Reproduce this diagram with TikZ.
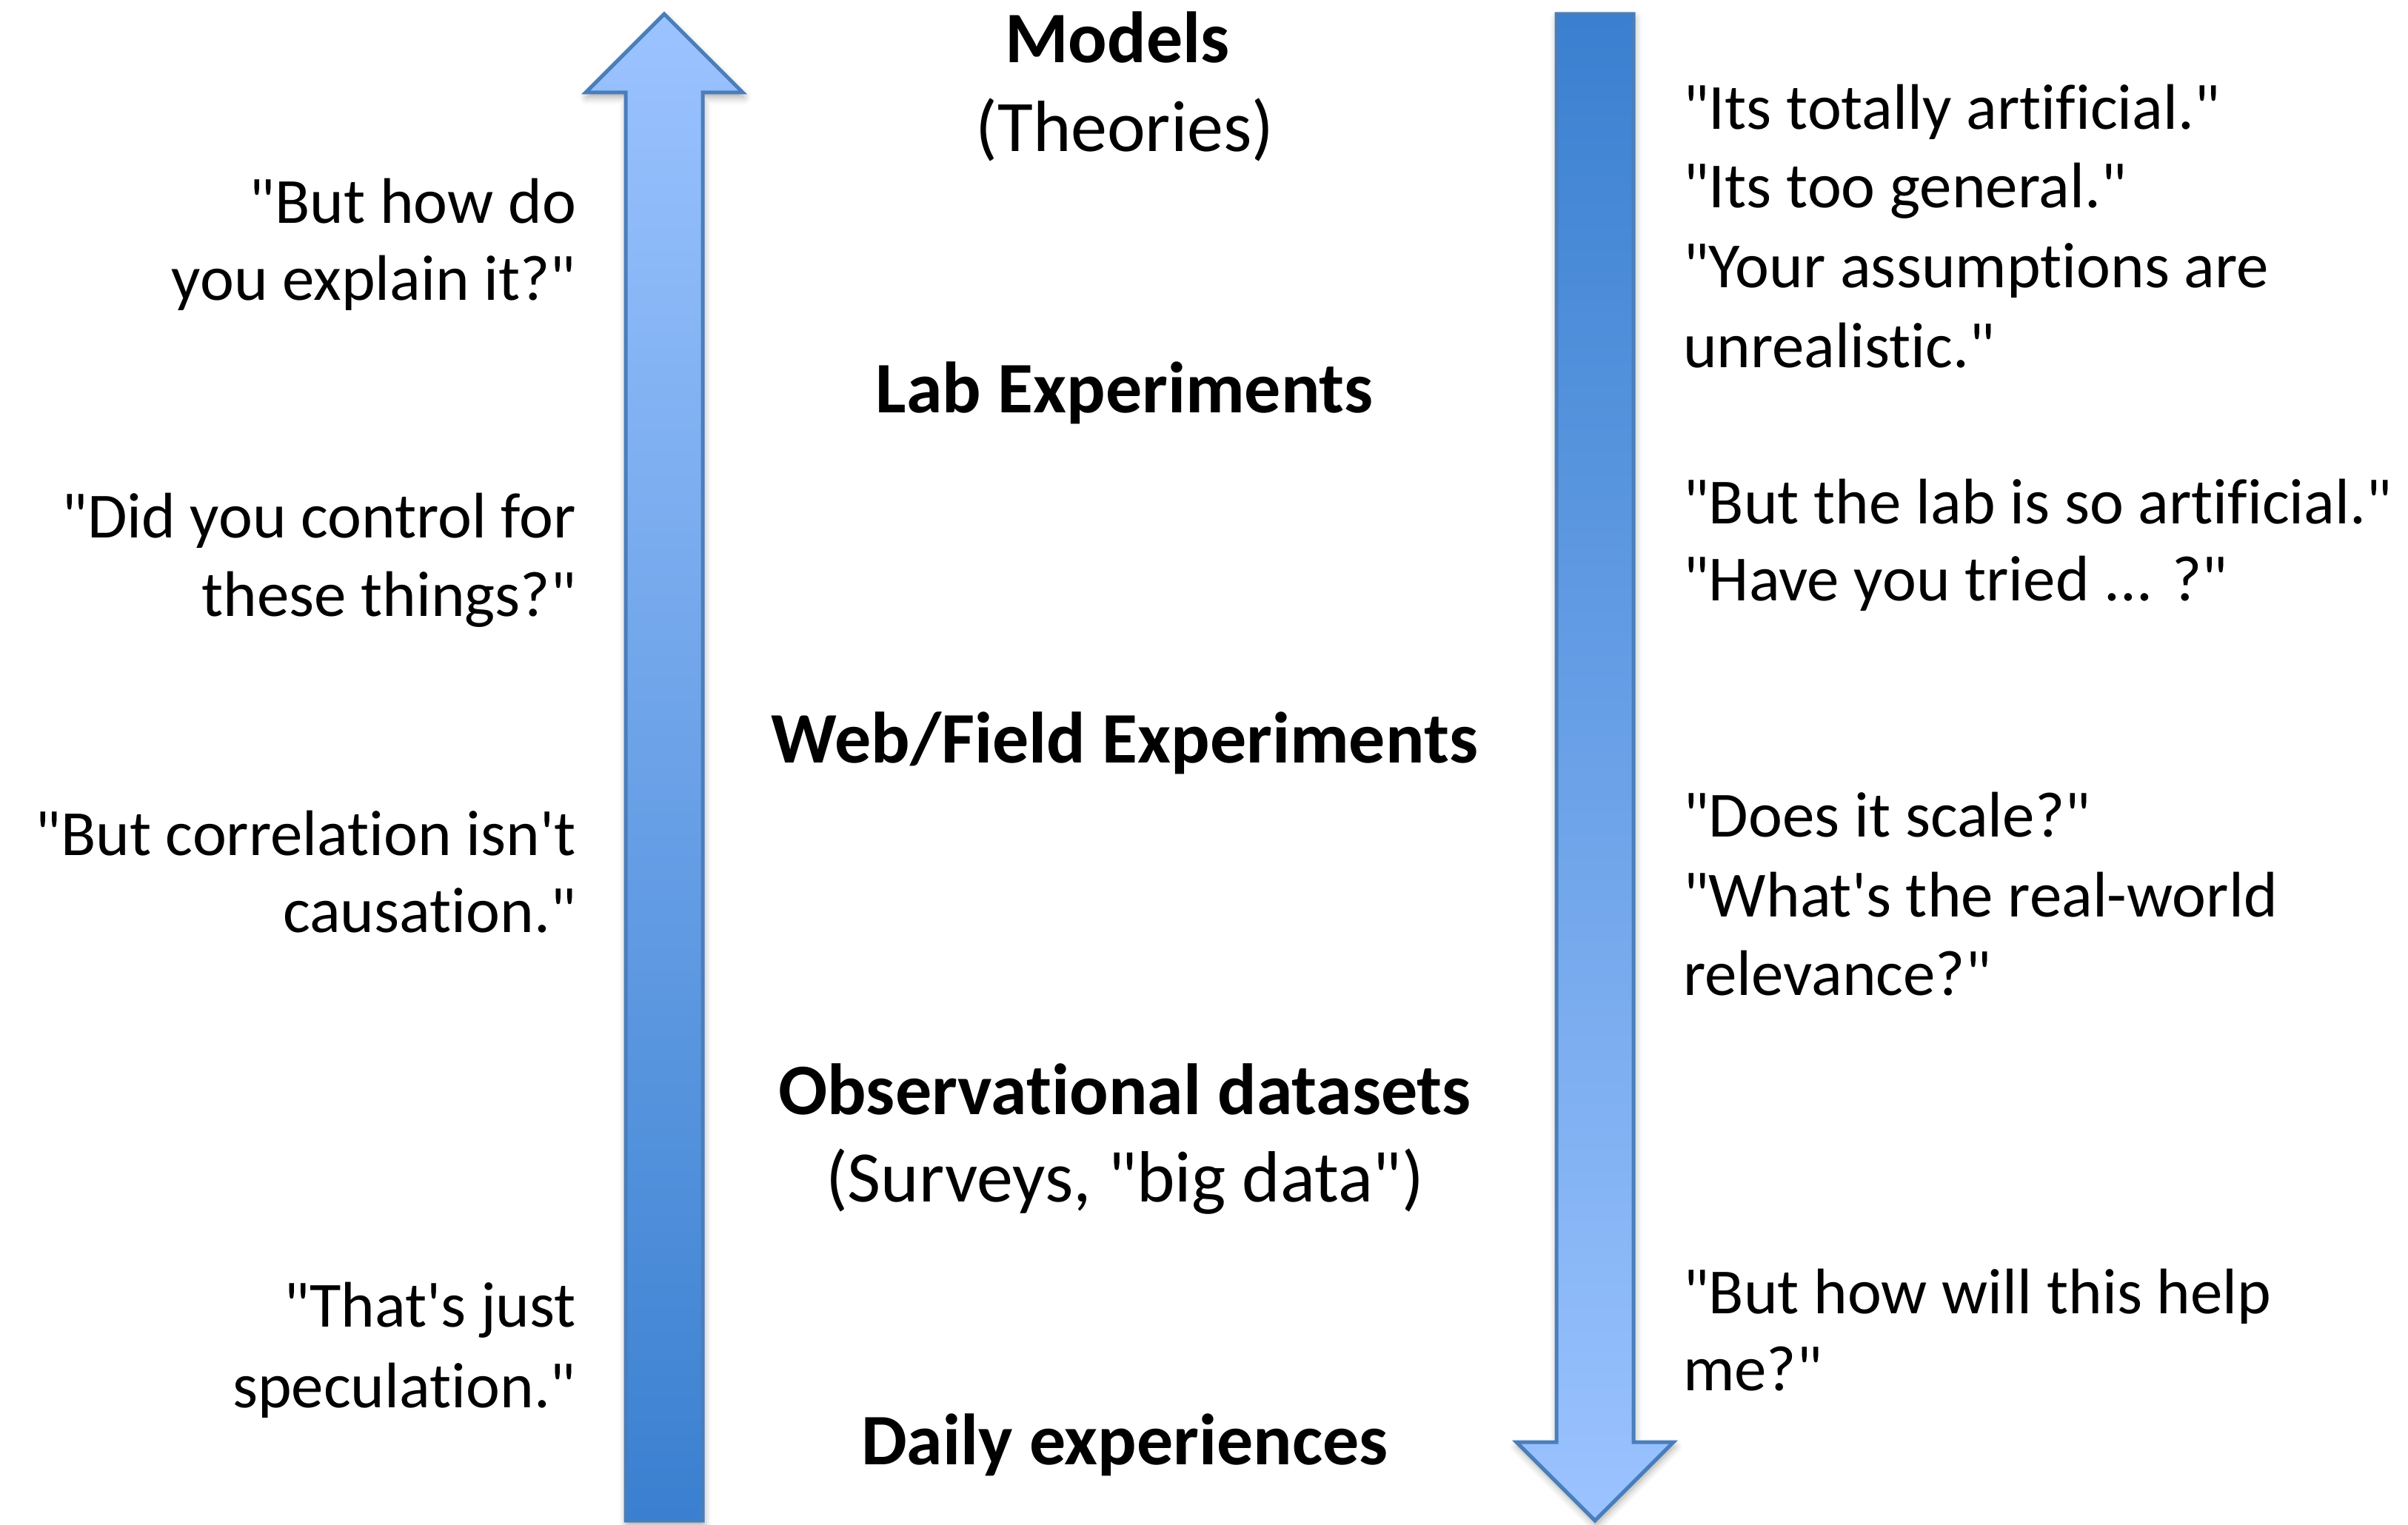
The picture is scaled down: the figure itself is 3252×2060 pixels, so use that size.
\documentclass[tikz,border=0pt]{standalone}
\usepackage{fontspec}
% straight quotes and no f-ligatures, as typed
\setmainfont{Carlito}[Ligatures={TeXOff,NoCommon}]
\usetikzlibrary{shadows.blur}

\definecolor{arrowlight}{RGB}{155,195,255}
\definecolor{arrowdark}{RGB}{58,128,208}
\definecolor{arrowedge}{RGB}{74,126,187}

\begin{document}
\begin{tikzpicture}[x=0.2pt, y=-0.2pt,
  every node/.style={inner sep=0pt, outer sep=0pt},
  quoteleft/.style={anchor=base east, font=\fontsize{17.4}{21}\selectfont},
  quoteright/.style={anchor=base west, font=\fontsize{17.4}{21}\selectfont},
  level/.style={anchor=base, font=\fontsize{19.6}{23.5}\selectfont\bfseries},
  levelnote/.style={anchor=base, font=\fontsize{19.6}{23.5}\selectfont},
  bigarrow/.style={draw=arrowedge, line width=1pt, line join=miter,
    blur shadow={shadow xshift=0.3pt, shadow yshift=-1.2pt,
                 shadow blur radius=2pt, shadow opacity=35}},
]
\useasboundingbox (0,0) rectangle (3252,2060);

% upward arrow: from everyday experience towards theory
\draw[bigarrow, top color=arrowlight, bottom color=arrowdark]
  (897,19) -- (1003,125) -- (949,125) -- (949,2054)
  -- (845,2054) -- (845,125) -- (791,125) -- cycle;

% downward arrow: from theory towards everyday experience
\draw[bigarrow, top color=arrowdark, bottom color=arrowlight]
  (2102,19) -- (2206,19) -- (2206,1948) -- (2260,1948)
  -- (2154,2054) -- (2048,1948) -- (2102,1948) -- cycle;

% levels of evidence
\node[level]     (models) at (1509,85)   {Models};
\node[levelnote] (theo)   at (1519,205)  {(Theories)};
\node[level]     (lab)    at (1519,558)  {Lab Experiments};
\node[level]     (web)    at (1519,1031) {Web/Field Experiments};
\node[level]     (obs)    at (1519,1506) {Observational datasets};
\node[levelnote] (surv)   at (1519,1624) {(Surveys, "big data")};
\node[level]     (daily)  at (1519,1979) {Daily experiences};

% objections raised from below
\node[quoteleft] (l1a) at (778,302)  {"But how do};
\node[quoteleft] (l1b) at (778,406)  {you explain it?"};
\node[quoteleft] (l2a) at (778,727)  {"Did you control for};
\node[quoteleft] (l2b) at (778,833)  {these things?"};
\node[quoteleft] (l3a) at (778,1156) {"But correlation isn\textquotesingle t};
\node[quoteleft] (l3b) at (778,1260) {causation."};
\node[quoteleft] (l4a) at (778,1793) {"That\textquotesingle s just};
\node[quoteleft] (l4b) at (778,1901) {speculation."};

% objections raised from above
\node[quoteright] (r1a) at (2273,175)  {"Its totally artificial."};
\node[quoteright] (r1b) at (2273,281)  {"Its too general."};
\node[quoteright] (r1c) at (2273,389)  {"Your assumptions are};
\node[quoteright] (r1d) at (2273,497)  {unrealistic."};
\node[quoteright] (r2a) at (2273,708)  {"But the lab is so artificial."};
\node[quoteright] (r2b) at (2273,812)  {"Have you tried ... ?"};
\node[quoteright] (r3a) at (2273,1131) {"Does it scale?"};
\node[quoteright] (r3b) at (2273,1239) {"What\textquotesingle s the real-world};
\node[quoteright] (r3c) at (2273,1345) {relevance?"};
\node[quoteright] (r4a) at (2273,1774) {"But how will this help};
\node[quoteright] (r4b) at (2273,1878) {me?"};
\end{tikzpicture}
\end{document}
